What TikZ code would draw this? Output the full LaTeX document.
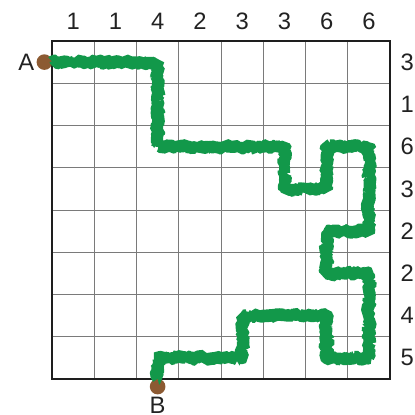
\documentclass[tikz,border=0pt]{standalone}
\usepackage{fontspec}
\setmainfont{Liberation Sans}
\usepackage{tikz}
\usetikzlibrary{decorations.pathmorphing}
\definecolor{GridLine}{HTML}{7A7A7A}
\definecolor{GridFrame}{HTML}{1E1E1E}
\definecolor{TrailGreen}{HTML}{12984A}
\definecolor{PinBrown}{HTML}{8C5A32}
\definecolor{LabelText}{HTML}{222222}

\begin{document}
\begin{tikzpicture}
        \useasboundingbox (-1.231,-0.852) rectangle (8.592,8.970);
        \draw[GridLine, line width=0.6pt] (0,0) grid (8,8);
        \draw[GridFrame, line width=1.1pt] (0,0) rectangle (8,8);
        % column and row hints
        \foreach \n [count=\i] in {1,1,4,2,3,3,6,6}
            \node[text=LabelText, font=\fontsize{16}{18}\selectfont] (col\i) at (\i-0.5,8.47) {\n};
        \foreach \n [count=\i] in {3,1,6,3,2,2,4,5}
            \node[text=LabelText, font=\fontsize{16}{18}\selectfont] (row\i) at (8.41,8.5-\i) {\n};
        % start and end pins
        \node[circle, fill=PinBrown, inner sep=0pt, minimum size=0.37cm] (a) at (-0.18,7.5) {};
        \node[circle, fill=PinBrown, inner sep=0pt, minimum size=0.37cm] (b) at (2.5,-0.18) {};
        \node[text=LabelText, font=\fontsize{16}{18}\selectfont] (alabel) at (-0.61,7.5) {A};
        \node[text=LabelText, font=\fontsize{16}{18}\selectfont] (blabel) at (2.5,-0.62) {B};
        \draw[TrailGreen, line width=8.5pt, line join=bevel, decorate, decoration={random steps, segment length=1pt, amplitude=1.2pt}]
            (a.east) -- (2.5,7.5) -- (2.5,5.5) -- (5.5,5.5) -- (5.5,4.5) -- (6.5,4.5) -- (6.5,5.5) -- (7.5,5.5)
            -- (7.5,3.5) -- (6.5,3.5) -- (6.5,2.5) -- (7.5,2.5) -- (7.5,0.5) -- (6.5,0.5) -- (6.5,1.5)
            -- (4.5,1.5) -- (4.5,0.5) -- (2.5,0.5) -- (b.north);
    \end{tikzpicture}
\end{document}
